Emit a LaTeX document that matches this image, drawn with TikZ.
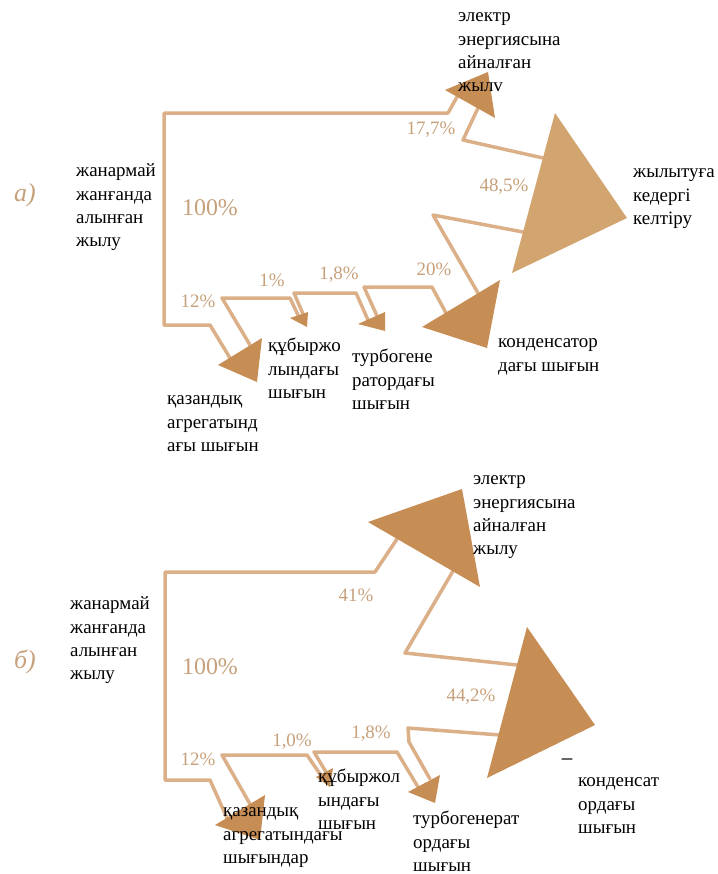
\documentclass[tikz,border=0pt]{standalone}
\usepackage{fontspec}
\setmainfont{Liberation Serif}
\usetikzlibrary{positioning}
\definecolor{bandline}{HTML}{DBB088}
\definecolor{headfill}{HTML}{C68D55}
\definecolor{heatfill}{HTML}{D2A470}
\definecolor{pcttext}{HTML}{C6A07A}

\begin{document}
\begin{tikzpicture}[x=1bp, y=-1bp, line cap=round, line join=round,
  band/.style={draw=bandline, line width=3.5bp},
  head/.style={fill=headfill, draw=none},
  pct/.style={text=pcttext, inner sep=0pt, font=\fontsize{19}{22}\selectfont},
  big/.style={pct, font=\fontsize{24}{26}\selectfont},
  lbl/.style={align=left, anchor=north west, inner sep=0pt, font=\fontsize{19}{23.5}\selectfont},
  tag/.style={text=pcttext, inner sep=0pt, font=\fontsize{26}{28}\selectfont\itshape}]
\useasboundingbox (0,0) rectangle (718,874);
% a)
\draw[band] (457,97) -- (448,113) -- (164,113) -- (164,325) -- (210,325) -- (230,358);
\draw[band] (250,345) -- (222,298) -- (290,298) -- (298,315);
\draw[band] (303,314) -- (294,293) -- (356,293) -- (368,320);
\draw[band] (377,316) -- (364,287) -- (432,287) -- (446,313);
\draw[band] (478,293) -- (433,215) -- (523,232);
\draw[band] (543,158) -- (463,140) -- (478,108);
\fill[head] (445,90) -- (488,72) -- (495,118) -- cycle;
\fill[heatfill] (555,113) -- (627,218) -- (512,273) -- cycle;
\fill[head] (422,327) -- (500,280) -- (487,348) -- cycle;
\fill[head] (358,324) -- (385,312) -- (385,331) -- cycle;
\fill[head] (290,318) -- (308,312) -- (307,327) -- cycle;
\fill[head] (218,365) -- (262,338) -- (257,382) -- cycle;
\node[tag] (tagA) at (25,195) {а)};
\node[big] (pA100) at (210,208) {100\%};
\node[pct] (pAel) at (431,130) {17,7\%};
\node[pct] (pAheat) at (504,187) {48,5\%};
\node[pct] (pAcond) at (434,269) {20\%};
\node[pct] (pAturb) at (339,275) {1,8\%};
\node[pct] (pApipe) at (272,280) {1\%};
\node[pct] (pAboil) at (198,301) {12\%};
\node[lbl] (fuelA) at (76,160) {\strut жанармай\\жанғанда\\алынған\\жылу};
\node[lbl] (elecA) at (458,5) {\strut электр\\энергиясына\\айналған\\жылv};
\node[lbl] (heatA) at (633,161) {\strut жылытуға\\кедергі\\келтіру};
\node[lbl] (condA) at (498,331) {\strut конденсатор\\дағы шығын};
\node[lbl] (turbA) at (352,346) {\strut турбогене\\ратордағы\\шығын};
\node[lbl] (pipeA) at (268,335) {\strut құбыржо\\лындағы\\шығын};
\node[lbl] (boilA) at (167,388) {\strut қазандық\\агрегатынд\\ағы шығын};
% б)
\draw[band] (397,539) -- (375,572) -- (165,572) -- (165,780) -- (210,780) -- (227,818);
\draw[band] (250,804) -- (222,755) -- (307,755) -- (320,774);
\draw[band] (326,772) -- (314,752) -- (397,752) -- (418,787);
\draw[band] (430,779) -- (409,742) -- (408,728) -- (500,735);
\draw[band] (517,665) -- (405,653) -- (453,571);
\fill[head] (368,522) -- (462,489) -- (480,587) -- cycle;
\fill[head] (527,627) -- (595,725) -- (487,778) -- cycle;
\fill[head] (408,792) -- (440,775) -- (435,803) -- cycle;
\fill[head] (316,777) -- (333,768) -- (330,787) -- cycle;
\fill[head] (215,825) -- (265,795) -- (260,840) -- cycle;
\draw[black!60, line width=1.2bp] (562,759) -- (572,759);
\node[tag] (tagB) at (25,662) {б)};
\node[big] (pB100) at (210,667) {100\%};
\node[pct] (pBel) at (356,595) {41\%};
\node[pct] (pBcond) at (471,697) {44,2\%};
\node[pct] (pBturb) at (371,734) {1,8\%};
\node[pct] (pBpipe) at (292,742) {1,0\%};
\node[pct] (pBboil) at (198,759) {12\%};
\node[lbl] (fuelB) at (70,593) {\strut жанармай\\жанғанда\\алынған\\жылу};
\node[lbl] (elecB) at (473,468) {\strut электр\\энергиясына\\айналған\\жылу};
\node[lbl] (condB) at (578,770) {\strut конденсат\\ордағы\\шығын};
\node[lbl] (pipeB) at (318,766) {\strut құбыржол\\ындағы\\шығын};
\node[lbl] (turbB) at (413,808) {\strut турбогенерат\\ордағы\\шығын};
\node[lbl] (boilB) at (223,800) {\strut қазандық\\агрегатындағы\\шығындар};
\end{tikzpicture}
\end{document}
